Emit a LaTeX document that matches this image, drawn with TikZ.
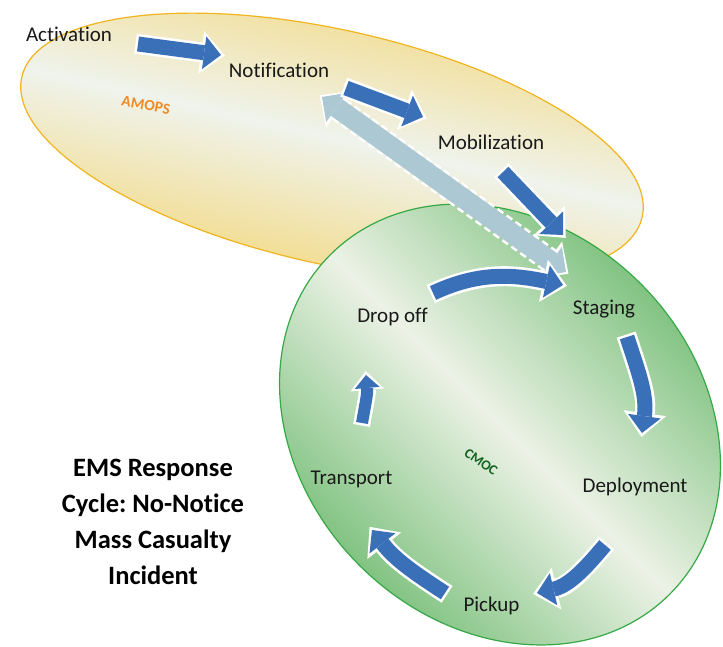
\documentclass[tikz,border=0pt]{standalone}
\usepackage{fontspec}
\setmainfont{Carlito}[Ligatures=NoCommon]
\frenchspacing
\usetikzlibrary{arrows.meta}
\definecolor{arrowblue}{RGB}{58,112,184}
\definecolor{amopsedge}{RGB}{240,180,30}
\definecolor{amopsfill}{RGB}{244,214,118}
\definecolor{amopslight}{RGB}{239,243,236}
\definecolor{cmocedge}{RGB}{55,168,70}
\definecolor{cmocfill}{RGB}{104,184,106}
\definecolor{cmoclight}{RGB}{236,242,230}
\definecolor{hatchblue}{RGB}{172,200,210}
\definecolor{amopstext}{RGB}{240,140,40}
\definecolor{cmoctext}{RGB}{20,100,35}
\tikzset{
  stage/.style={anchor=base, inner sep=0pt, text=black!90, font=\fontsize{21}{25}\selectfont},
  flow/.style={draw=arrowblue, line width=15pt, -{Triangle[width=33pt,length=17pt,line width=0pt]},
    preaction={draw=white, line width=20pt, shorten <=-2.5pt, shorten >=-4pt,
      -{Triangle[width=43pt,length=24pt,line width=0pt]}}},
  thinflow/.style={draw=arrowblue, line width=12pt, -{Triangle[width=25pt,length=13pt,line width=0pt]},
    preaction={draw=white, line width=17pt, shorten <=-2.5pt, shorten >=-4pt,
      -{Triangle[width=34pt,length=19pt,line width=0pt]}}},
  feedback/.style={draw=hatchblue, line width=20pt,
    {Triangle[width=36pt,length=18pt,line width=0pt]}-{Triangle[width=36pt,length=18pt,line width=0pt]},
    preaction={draw=white, line width=25pt, dash pattern=on 7pt off 4pt, shorten <=-3pt, shorten >=-3pt,
      {Triangle[width=45pt,length=24pt,line width=0pt]}-{Triangle[width=45pt,length=24pt,line width=0pt]}}}
}
\begin{document}
\begin{tikzpicture}[x=1pt, y=1pt]
  \useasboundingbox (0,0) rectangle (723,647);
  \draw[draw=amopsedge, line width=1.2pt, top color=amopsfill, bottom color=amopsfill,
    middle color=amopslight, shading angle=-12.7, rotate around={-12.7:(332,500)}]
    (332,500) ellipse (318 and 117);
  \draw[draw=cmocedge, line width=1.2pt, top color=cmocfill, bottom color=cmocfill,
    middle color=cmoclight, shading angle=-45, rotate around={-45:(500,222.5)}]
    (500,222.5) ellipse (240 and 199);

  \node[stage] (act) at (69,605) {Activation};
  \node[stage] (notif) at (279,569) {Notification};
  \node[stage] (mob) at (491,497) {Mobilization};
  \node[stage] (stag) at (604,332) {Staging};
  \node[stage] (depl) at (635,154) {Deployment};
  \node[stage] (pick) at (491.5,35) {Pickup};
  \node[stage] (trans) at (351.5,162) {Transport};
  \node[stage] (drop) at (392.5,324) {Drop off};
  \node[rotate=-11, inner sep=0pt, text=amopstext, font=\bfseries\fontsize{15.5}{18}\selectfont] (amops) at (146,542) {AMOPS};
  \node[rotate=-35, inner sep=0pt, text=cmoctext, font=\bfseries\fontsize{14}{16}\selectfont] (cmoc) at (481,185) {CMOC};
  \node[align=center, font=\bfseries\fontsize{26.5}{36}\selectfont] (title) at (153,125)
    {EMS Response\\Cycle: No-Notice\\Mass Casualty\\Incident};

  \coordinate (a1) at (138,603);
  \coordinate (a2) at (221,592);
  \coordinate (b1) at (346,559);
  \coordinate (b2) at (423,530);
  \coordinate (c1) at (503,475);
  \coordinate (c2) at (563,412);
  \coordinate (f1) at (322,550);
  \coordinate (f2) at (566,375);
  \coordinate (d1) at (433,354);
  \coordinate (d2) at (563,362);
  \coordinate (e1) at (627,310);
  \coordinate (e2) at (642,214);
  \coordinate (g1) at (605,102);
  \coordinate (g2) at (537,54);
  \coordinate (h1) at (445,54);
  \coordinate (h2) at (372,117);
  \coordinate (k1) at (362,224);
  \coordinate (k2) at (366,272);

  \draw[feedback] (f1) -- (f2);
  \draw[flow] (a1) -- (a2);
  \draw[flow] (b1) -- (b2);
  \draw[flow] (c1) -- (c2);
  \draw[flow] (d1) to[out=25, in=168] (d2);
  \draw[flow] (e1) to[out=-72, in=82] (e2);
  \draw[flow] (g1) to[out=-130, in=13] (g2);
  \draw[flow] (h1) to[out=147, in=-52] (h2);
  \draw[thinflow] (k1) to[out=80, in=-85] (k2);
\end{tikzpicture}
\end{document}
